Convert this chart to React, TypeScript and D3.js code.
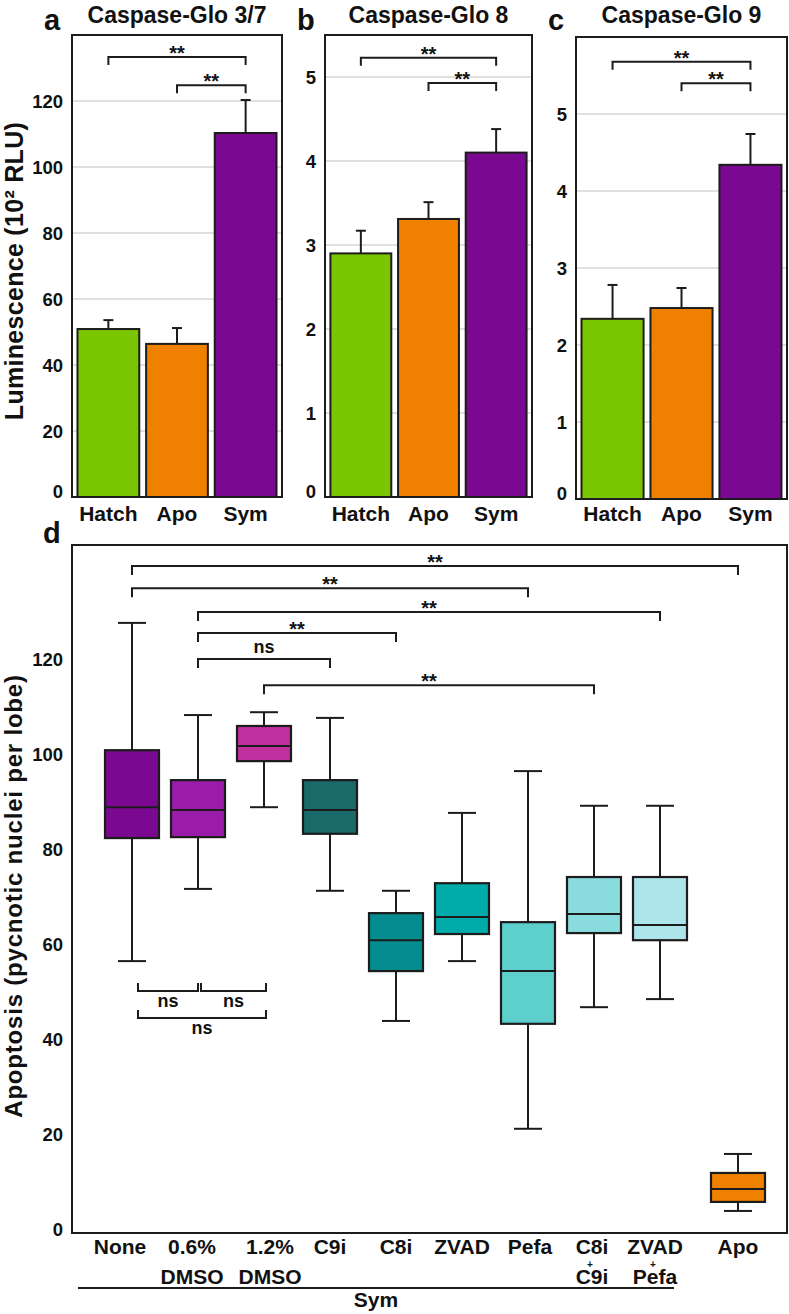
import * as d3 from 'd3';

// panels a-c: luminescence means and SEM
const groups = ['Hatch', 'Apo', 'Sym'];
const groupColors = ['#7ac600', '#f08100', '#7b0890'];
const glo37Mean = [50.9, 46.4, 110.3];
const glo37Err = [2.7, 4.8, 10.0];
const glo8Mean = [2.9, 3.31, 4.1];
const glo8Err = [0.27, 0.2, 0.28];
const glo9Mean = [2.34, 2.48, 4.34];
const glo9Err = [0.44, 0.26, 0.4];

// panel d: box plot stats
const treatments = ['None', '0.6% DMSO', '1.2% DMSO', 'C9i', 'C8i', 'ZVAD', 'Pefa', 'C8i+C9i', 'ZVAD+Pefa', 'Apo'];
const treatmentLines = [['None'], ['0.6%', 'DMSO'], ['1.2%', 'DMSO'], ['C9i'], ['C8i'], ['ZVAD'], ['Pefa'], ['C8i', '+', 'C9i'], ['ZVAD', '+', 'Pefa'], ['Apo']];
const boxColors = ['#7b0890', '#9b1ca8', '#c02f9e', '#1b6a6a', '#058c8e', '#00abaa', '#5dcfcd', '#8adbde', '#ade5eb', '#f08100'];
const whiskerLow = [56.4, 71.6, 88.8, 71.2, 43.8, 56.4, 21.1, 46.7, 48.4, 3.8];
const q1 = [82.3, 82.5, 98.5, 83.2, 54.3, 62.1, 43.2, 62.3, 60.8, 5.7];
const median = [88.8, 88.2, 101.7, 88.2, 60.8, 65.7, 54.3, 66.3, 64.0, 8.4];
const q3 = [100.8, 94.5, 105.9, 94.5, 66.5, 72.8, 64.6, 74.1, 74.1, 11.8];
const whiskerHigh = [127.6, 108.2, 108.8, 107.6, 71.2, 87.6, 96.4, 89.1, 89.1, 15.8];

// significance brackets (level in data units)
const topBrackets = [
  { from: 'None', to: 'Apo', level: 139.6, label: '**' },
  { from: 'None', to: 'Pefa', level: 134.9, label: '**' },
  { from: '0.6% DMSO', to: 'ZVAD+Pefa', level: 129.9, label: '**' },
  { from: '0.6% DMSO', to: 'C8i', level: 125.5, label: '**' },
  { from: '0.6% DMSO', to: 'C9i', level: 120.0, label: 'ns' },
  { from: '1.2% DMSO', to: 'C8i+C9i', level: 114.5, label: '**' },
];
const lowBrackets = [
  { from: 'None', to: '0.6% DMSO', level: 50.1, label: 'ns' },
  { from: '0.6% DMSO', to: '1.2% DMSO', level: 50.1, label: 'ns' },
  { from: 'None', to: '1.2% DMSO', level: 44.4, label: 'ns' },
];

const FONT = '"Liberation Sans", Arial, Helvetica, sans-serif';
const INK = '#1c1c1c';
// small horizontal nudges of the x labels in panel d
const labelNudge = [-12, -6, 6, 0, 0, 0, 2, -2, -5, 0];

type Bracket = { from: string; to: string; level: number; label: string };

function BarPanel({ left, right, top, bottom, max, ticks, means, errs, title, letter, brackets }: any) {
  const x = d3.scaleBand<string>().domain(groups).range([left, right]).paddingInner(0.1).paddingOuter(0.08);
  const y = d3.scaleLinear().domain([0, max]).range([bottom, top]);
  const cx = (g: string) => (x(g) as number) + x.bandwidth() / 2;
  return (
    <g>
      {ticks.map((t: number) => (
        <g key={t}>
          {t > 0 && <line x1={left} x2={right} y1={y(t)} y2={y(t)} stroke="#e0e0e0" strokeWidth={2} />}
          <text x={left - 9} y={y(t) - (t === 0 ? 6 : 0)} textAnchor="end" dominantBaseline="central" fontSize={18.5} fontWeight="bold">{t}</text>
        </g>
      ))}
      {groups.map((g, i) => (
        <g key={g}>
          <line x1={cx(g)} x2={cx(g)} y1={y(means[i])} y2={y(means[i] + errs[i])} stroke={INK} strokeWidth={2} />
          <line x1={cx(g) - 5} x2={cx(g) + 5} y1={y(means[i] + errs[i])} y2={y(means[i] + errs[i])} stroke={INK} strokeWidth={2} />
          <rect x={x(g)} y={y(means[i])} width={x.bandwidth()} height={y(0) - y(means[i])} fill={groupColors[i]} stroke={INK} strokeWidth={2} />
          <text x={cx(g)} y={521} textAnchor="middle" fontSize={21} fontWeight="bold">{g}</text>
        </g>
      ))}
      <rect x={left} y={top} width={right - left} height={bottom - top} fill="none" stroke={INK} strokeWidth={2} />
      {brackets.map((b: Bracket, i: number) => {
        const x1 = cx(b.from);
        const x2 = cx(b.to);
        const yy = y(b.level);
        return (
          <g key={i}>
            <path d={`M${x1},${yy + 8}V${yy}H${x2}V${yy + 8}`} fill="none" stroke={INK} strokeWidth={2} />
            <text x={(x1 + x2) / 2} y={yy + 3} textAnchor="middle" fontSize={20} fontWeight="bold">{b.label}</text>
          </g>
        );
      })}
      <text x={(left + right) / 2} y={23} textAnchor="middle" fontSize={23} fontWeight="bold">{title}</text>
      <text x={left - 28} y={30} fontSize={29} fontWeight="bold">{letter}</text>
    </g>
  );
}

function BoxPanel() {
  const left = 72, right = 787, top = 545, bottom = 1233;
  const xp = d3.scalePoint<string>().domain(treatments).range([132, 726]);
  const cx = (k: string) => (xp(k) as number) + (k === 'Apo' ? 12 : 0);
  const y = d3.scaleLinear().domain([0, 144]).range([1229, 545]);
  const bw = 54;
  const cap = 14;
  return (
    <g>
      <rect x={left} y={top} width={right - left} height={bottom - top} fill="none" stroke={INK} strokeWidth={2} />
      {y.ticks(7).filter((t) => t <= 120).map((t) => (
        <text key={t} x={63} y={y(t)} textAnchor="end" dominantBaseline="central" fontSize={18.5} fontWeight="bold">{t}</text>
      ))}
      {treatments.map((k, i) => (
        <g key={k}>
          <line x1={cx(k)} x2={cx(k)} y1={y(whiskerLow[i])} y2={y(whiskerHigh[i])} stroke={INK} strokeWidth={2} />
          <line x1={cx(k) - cap} x2={cx(k) + cap} y1={y(whiskerLow[i])} y2={y(whiskerLow[i])} stroke={INK} strokeWidth={2} />
          <line x1={cx(k) - cap} x2={cx(k) + cap} y1={y(whiskerHigh[i])} y2={y(whiskerHigh[i])} stroke={INK} strokeWidth={2} />
          <rect x={cx(k) - bw / 2} y={y(q3[i])} width={bw} height={y(q1[i]) - y(q3[i])} fill={boxColors[i]} stroke={INK} strokeWidth={2.2} />
          <line x1={cx(k) - bw / 2} x2={cx(k) + bw / 2} y1={y(median[i])} y2={y(median[i])} stroke={INK} strokeWidth={2} />
          {treatmentLines[i].map((ln, j) =>
            ln === '+' ? (
              <text key={j} x={cx(k) + labelNudge[i] - 2} y={1268} textAnchor="middle" fontSize={10} fontWeight="bold">+</text>
            ) : (
              <text key={j} x={cx(k) + labelNudge[i]} y={j === 0 ? 1254 : 1284} textAnchor="middle" fontSize={21} fontWeight="bold">{ln}</text>
            )
          )}
        </g>
      ))}
      {topBrackets.map((b, i) => {
        const x1 = cx(b.from), x2 = cx(b.to), yy = y(b.level);
        return (
          <g key={i}>
            <path d={`M${x1},${yy + 9}V${yy}H${x2}V${yy + 9}`} fill="none" stroke={INK} strokeWidth={2} />
            <text x={(x1 + x2) / 2} y={b.label === 'ns' ? yy - 6 : yy + 3} textAnchor="middle" fontSize={b.label === 'ns' ? 18 : 20} fontWeight="bold">{b.label}</text>
          </g>
        );
      })}
      {lowBrackets.map((b, i) => {
        const x1 = cx(b.from) + (i === 1 ? 3 : 6), x2 = cx(b.to) + (i === 0 ? 0 : 2), yy = y(b.level);
        return (
          <g key={i}>
            <path d={`M${x1},${yy - 8}V${yy}H${x2}V${yy - 8}`} fill="none" stroke={INK} strokeWidth={2} />
            <text x={(x1 + x2) / 2} y={yy + 16} textAnchor="middle" fontSize={18} fontWeight="bold">{b.label}</text>
          </g>
        );
      })}
      <line x1={78} x2={674} y1={1288} y2={1288} stroke={INK} strokeWidth={2} />
      <text x={376} y={1307} textAnchor="middle" fontSize={21} fontWeight="bold">Sym</text>
      <text x={43} y={543} fontSize={29} fontWeight="bold">d</text>
      <text transform="translate(22,896) rotate(-90)" textAnchor="middle" fontSize={24} fontWeight="bold" letterSpacing={0.8}>Apoptosis (pycnotic nuclei per lobe)</text>
    </g>
  );
}

export default function App() {
  return (
    <svg width={789} height={1314} style={{ position: 'absolute', left: 0, top: 0, background: '#fff' }} fontFamily={FONT} fill="#111">
      <rect width={789} height={1314} fill="#fff" />
      <BarPanel left={72} right={282} top={35} bottom={497} max={140} ticks={d3.range(0, 121, 20)}
        means={glo37Mean} errs={glo37Err} title="Caspase-Glo 3/7" letter="a"
        brackets={[{ from: 'Hatch', to: 'Sym', level: 133.3, label: '**' }, { from: 'Apo', to: 'Sym', level: 124.8, label: '**' }]} />
      <BarPanel left={325} right={532} top={35} bottom={497} max={5.5} ticks={d3.range(0, 6)}
        means={glo8Mean} errs={glo8Err} title="Caspase-Glo 8" letter="b"
        brackets={[{ from: 'Hatch', to: 'Sym', level: 5.23, label: '**' }, { from: 'Apo', to: 'Sym', level: 4.93, label: '**' }]} />
      <BarPanel left={576} right={787} top={37} bottom={499} max={6} ticks={d3.range(0, 6)}
        means={glo9Mean} errs={glo9Err} title="Caspase-Glo 9" letter="c"
        brackets={[{ from: 'Hatch', to: 'Sym', level: 5.68, label: '**' }, { from: 'Apo', to: 'Sym', level: 5.4, label: '**' }]} />
      <text transform="translate(23,271) rotate(-90)" textAnchor="middle" fontSize={25} fontWeight="bold" letterSpacing={0.3}>Luminescence (10² RLU)</text>
      <BoxPanel />
    </svg>
  );
}
